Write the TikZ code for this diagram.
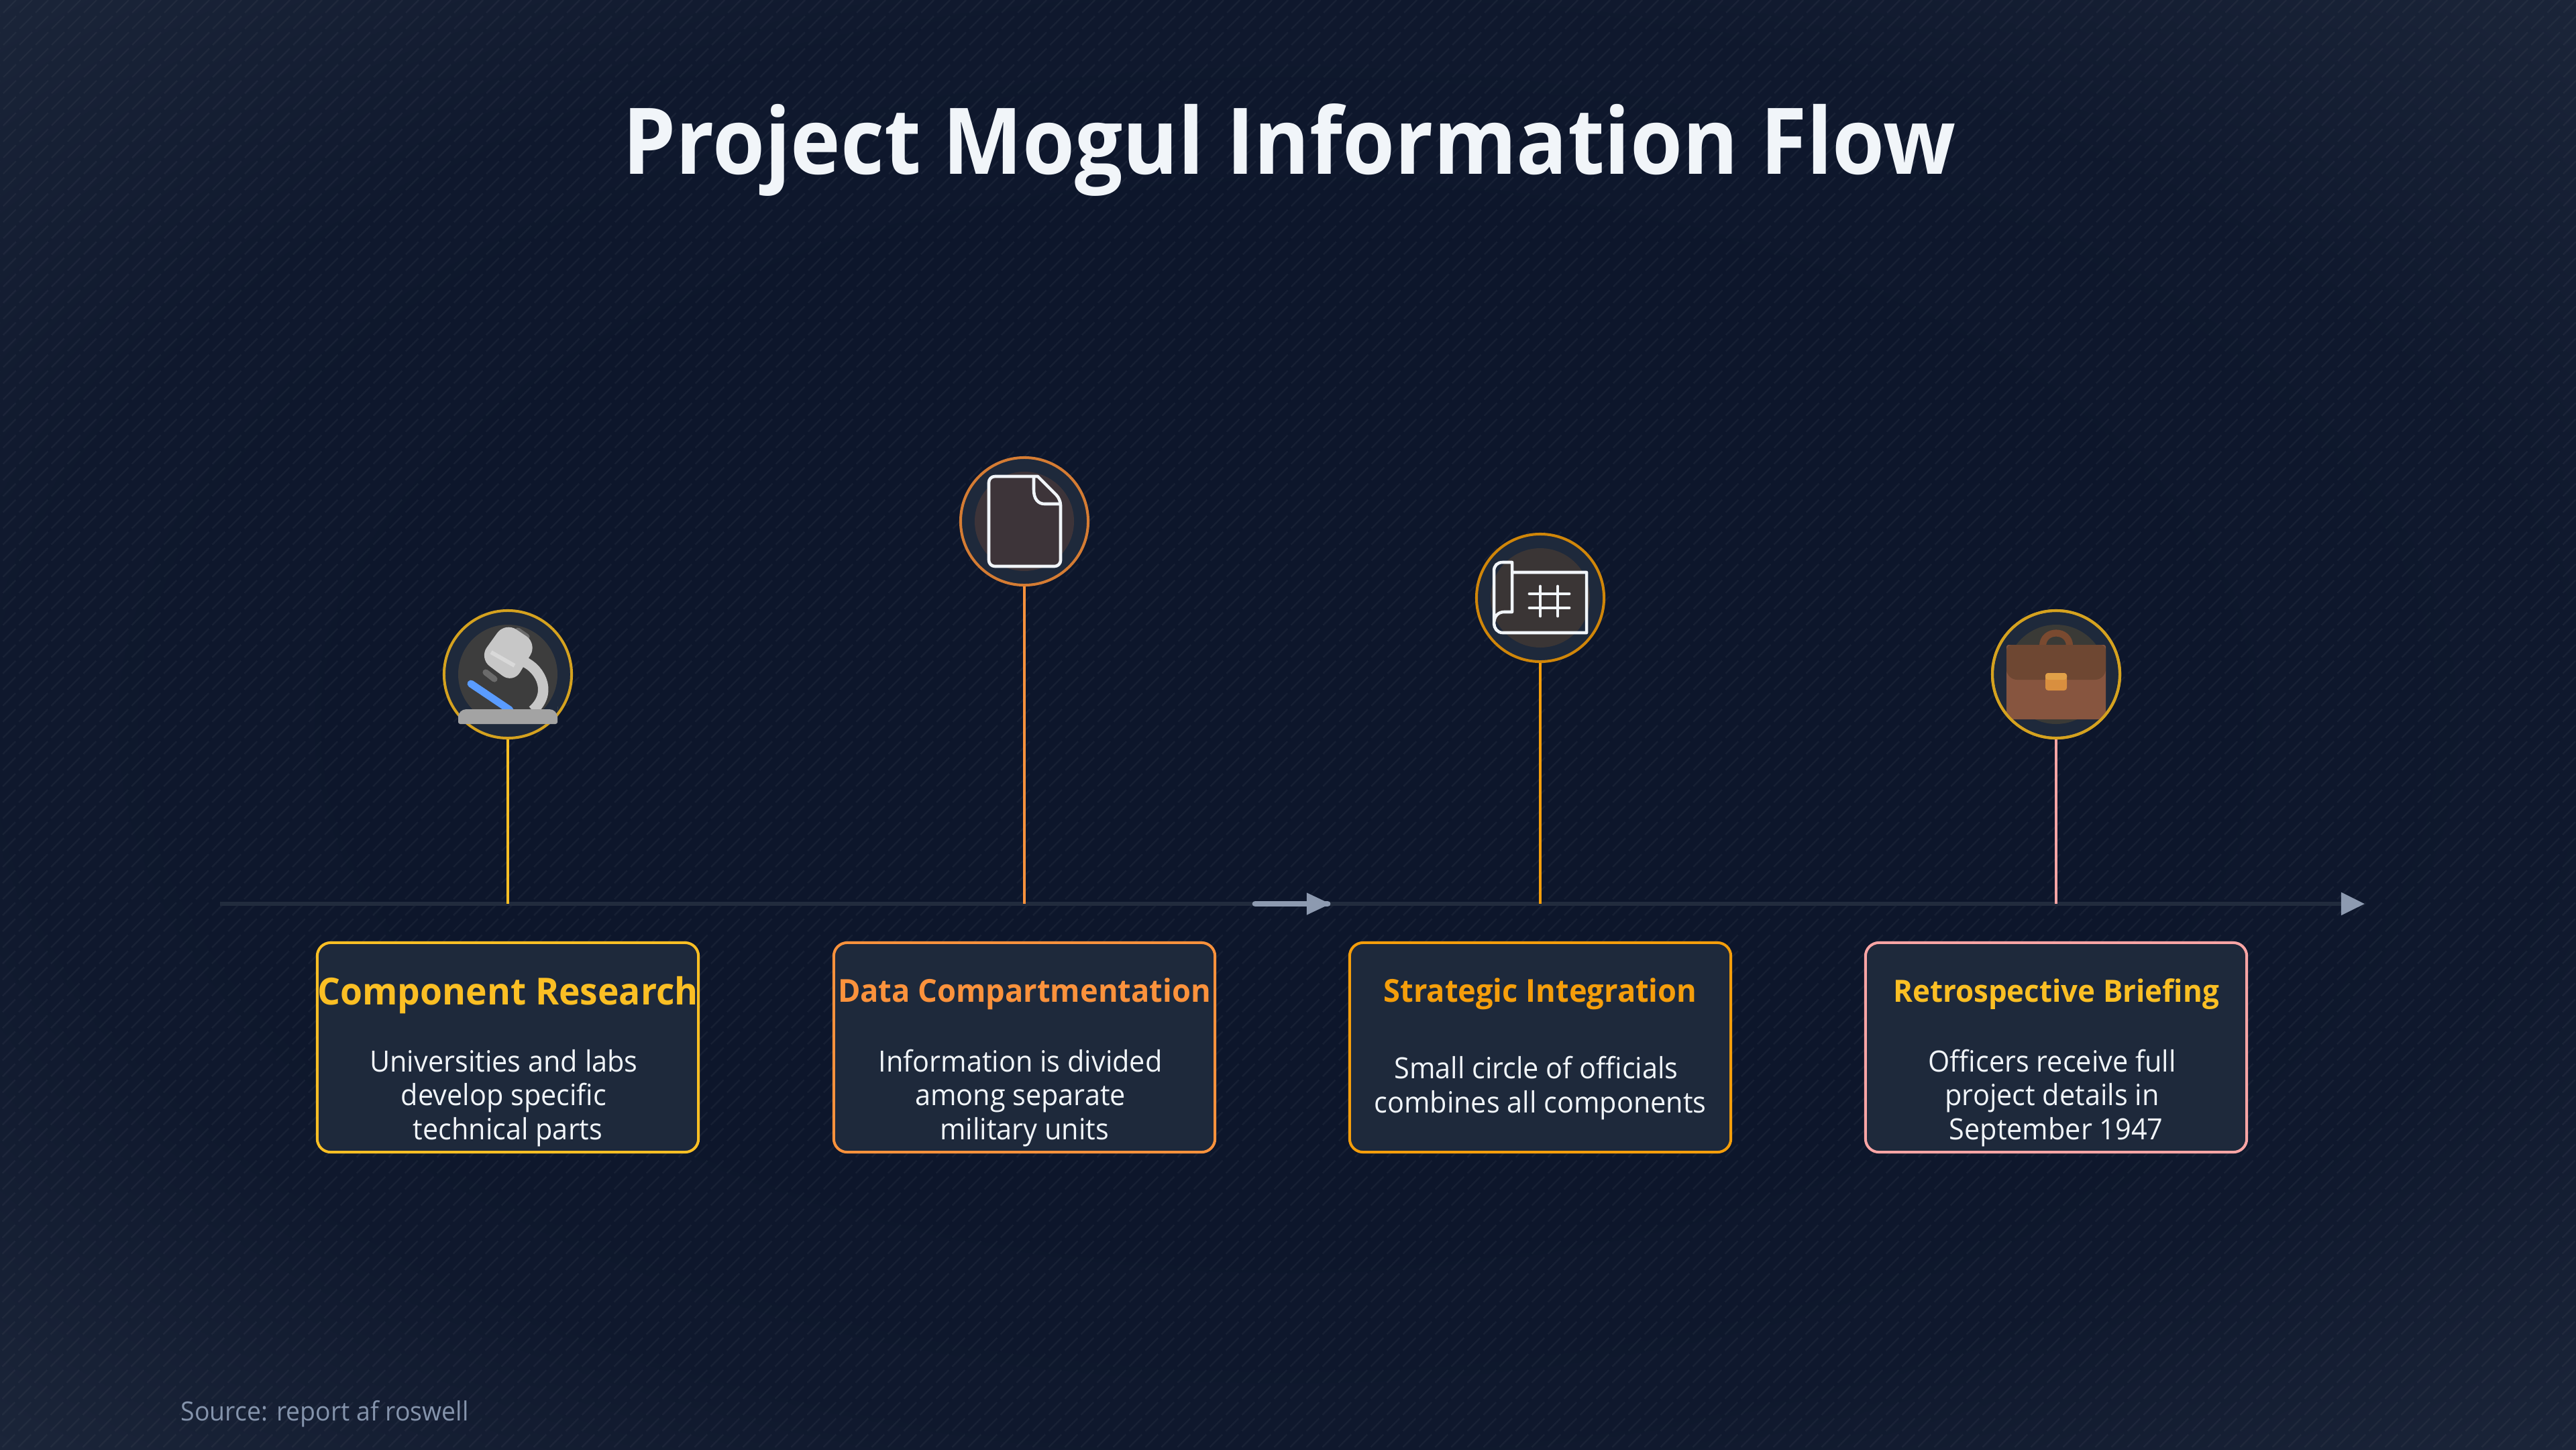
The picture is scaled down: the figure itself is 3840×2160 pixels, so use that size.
\documentclass[tikz,border=0pt]{standalone}
\usepackage{fontspec}
\setmainfont[FakeStretch=0.95]{Open Sans}
\newfontfamily\titlefont[FakeStretch=0.92]{Open Sans}
\newfontfamily\headfont[FakeStretch=0.96]{Open Sans}
\usepackage{tikz}
\usetikzlibrary{arrows.meta,positioning}
\definecolor{bgmid}{RGB}{13,22,43}
\definecolor{bgedge}{RGB}{27,37,57}
\definecolor{panel}{RGB}{30,41,59}
\definecolor{axisgrey}{RGB}{33,43,61}
\definecolor{tipgrey}{RGB}{141,154,176}
\definecolor{goldline}{RGB}{251,191,36}
\definecolor{orangeline}{RGB}{251,146,60}
\definecolor{amberline}{RGB}{245,158,11}
\definecolor{pinkline}{RGB}{252,165,165}
\definecolor{inkwhite}{RGB}{241,245,249}
\definecolor{sourcegrey}{RGB}{133,148,172}
\definecolor{slideblue}{RGB}{90,156,255}
\definecolor{docfill}{RGB}{61,52,57}
\definecolor{planfill}{RGB}{58,53,53}
\definecolor{casefill}{RGB}{58,58,54}
\definecolor{casebody}{RGB}{135,85,63}
\definecolor{caseflap}{RGB}{110,71,50}
\definecolor{casehandle}{RGB}{122,74,48}
\definecolor{claspdark}{RGB}{217,143,63}
\definecolor{clasplight}{RGB}{224,160,72}
\pgfdeclareradialshading{vignette}{\pgfpoint{0bp}{0bp}}{%
  color(0bp)=(bgmid); color(17bp)=(bgmid); color(25bp)=(bgmid!85!bgedge); color(35.4bp)=(bgedge); color(50bp)=(bgedge)}
\tikzset{
  iconring/.style={draw, circle, fill=panel, line width=1.15pt,
    minimum size=1.9cm, inner sep=0pt},
  stem/.style={line width=0.95pt},
  card/.style={draw, rounded corners=0.2cm, fill=panel, line width=1.14pt,
    minimum width=5.68cm, minimum height=3.12cm, inner sep=0pt},
  cardhead/.style={anchor=base, inner sep=0pt, font=\fontsize{13.4}{18}\selectfont\headfont\bfseries},
  cardbody/.style={anchor=base, inner sep=0pt, align=center, text=inkwhite,
    font=\fontsize{12.4}{14.3}\selectfont},
  iconline/.style={draw=inkwhite, line width=1.3pt, line join=round},
}
\newcommand{\tailgap}{\hbox to 3.4pt{}}
\begin{document}
\begin{tikzpicture}[x=0.01cm, y=-0.01cm]
  \useasboundingbox (0,0) rectangle (3840,2160);
  \shade[shading=vignette] (0,0) rectangle (3840,2160);
  % hatch
  \begin{scope}
    \clip (0,0) rectangle (3840,2160);
    \foreach \s in {0,24,...,6000}
      \draw[white, opacity=0.04, line width=0.7pt, dash pattern=on 7.6pt off 2.06pt] (\s,0) -- (\s-2160,2160);
  \end{scope}

  \node[anchor=base, font=\fontsize{39}{44}\selectfont\titlefont\bfseries, text=inkwhite, inner sep=0pt]
    (title) at (1922,259) {Project Mogul Information Flow};

  % timeline
  \coordinate (axisL) at (328,1347);
  \coordinate (axisR) at (3525,1347);
  \draw[axisgrey, line width=1.6pt, -{Triangle[length=10pt, width=9.4pt, color=tipgrey]}] (axisL) -- (axisR);
  \coordinate (midL) at (1871,1347);
  \coordinate (midT) at (1945,1347);
  \coordinate (midR) at (1979,1347);
  \coordinate (midE) at (1983,1347);
  \draw[tipgrey, line width=2.5pt, line cap=round] (midL) -- (midR);
  \draw[tipgrey, line width=0.1pt, -{Triangle[length=10pt, width=9.4pt]}] (midT) -- (midE);

  % icon rings
  \node[iconring, draw=goldline!85!black] (ring1) at (757,1005) {};
  \node[iconring, draw=orangeline!85!black] (ring2) at (1527,777) {};
  \node[iconring, draw=amberline!85!black] (ring3) at (2296,891) {};
  \node[iconring, draw=goldline!85!black] (ring4) at (3065,1005) {};

  \draw[stem, goldline] (ring1) -- (ring1 |- axisL);
  \draw[stem, orangeline] (ring2) -- (ring2 |- axisL);
  \draw[stem, amberline] (ring3) -- (ring3 |- axisL);
  \draw[stem, pinkline] (ring4) -- (ring4 |- axisL);

  % microscope
  \begin{scope}[shift={(ring1.center)}]
    \fill[black!76] (0,0) circle (74);
    \draw[black!58, line width=2.6pt, line cap=round] (15,-65) -- (28,-56);
    \draw[black!58, line width=2.6pt, line cap=round] (-33,-3) -- (-20,7);
    \draw[slideblue, line width=3.1pt, line cap=round] (-55,14) -- (3,53);
    \draw[black!22, line width=4.4pt] (18,-21) .. controls (45,-14) and (70,25) .. (37,54);
    \fill[black!22, rounded corners=0.2cm] (-4,-78) -- (44,-46) -- (8,14) -- (-43,-24) -- cycle;
    \draw[black!15, line width=1.7pt] (-25,-33) -- (10,-13);
    \fill[black!36, rounded corners=0.03cm] (-74,74) -- (-74,60) [rounded corners=0.12cm] -- (-74,52) -- (74,52) -- (74,60) [rounded corners=0.03cm] -- (74,74) -- cycle;
  \end{scope}

  % document
  \begin{scope}[shift={(ring2.center)}]
    \fill[docfill] (0,0) circle (74);
    \draw[iconline, fill=docfill, rounded corners=0.09cm]
      (20,-67) -- (-53,-67) -- (-53,67) -- (54,67) -- (54,-33) [sharp corners] -- cycle;
    \draw[iconline] (14,-67) -- (14,-47) .. controls (14,-34) and (20,-26) .. (30,-26) -- (54,-26);
  \end{scope}

  % blueprint
  \begin{scope}[shift={(ring3.center)}]
    \fill[planfill] (0,0) circle (74);
    \draw[iconline] (-42,-38) -- (69,-38) -- (69,52) -- (-56,52)
      .. controls (-64,52) and (-69,45) .. (-69,38) -- (-69,-40)
      .. controls (-69,-48) and (-64,-53) .. (-56,-53) -- (-42,-53) -- (-42,21) -- (-54,21)
      .. controls (-63,21) and (-69,28) .. (-69,38);
    \draw[iconline, line cap=round, line width=1.4pt] (-16,-6) -- (43,-6) (-16,15) -- (43,15) (0,-17) -- (0,27) (26,-17) -- (26,27);
  \end{scope}

  % briefcase
  \begin{scope}[shift={(ring4.center)}]
    \fill[casefill] (0,0) circle (74);
    \draw[casehandle, line width=2.9pt] (-20,-42) .. controls (-20,-68) and (20,-68) .. (20,-42);
    \begin{scope}
      \clip (0,0) circle (95);
      \fill[casebody, rounded corners=0.03cm] (-74,-44) rectangle (74,67);
    \end{scope}
    \fill[caseflap, rounded corners=0.08cm] (-74,-10) -- (-74,-44) -- (74,-44) -- (74,-10) [rounded corners=0.16cm] -- (74,8) -- (-74,8) [rounded corners=0.08cm] -- cycle;
    \fill[claspdark, rounded corners=0.04cm] (-16,-2) rectangle (16,24);
    \fill[clasplight, rounded corners=0.04cm] (-16,8) -- (-16,-2) -- (16,-2) -- (16,8) -- cycle;
    \draw[goldline!85!black, line width=1.15pt] (0,0) circle (95);
  \end{scope}

  % cards
  \node[card, draw=goldline] (card1) at (757,1561) {};
  \node[card, draw=orangeline] (card2) at (1527,1561) {};
  \node[card, draw=amberline] (card3) at (2296,1561) {};
  \node[card, draw=pinkline] (card4) at (3065,1561) {};

  \node[cardhead, text=goldline] (head1) at (757,1497) {\fontsize{15.8}{18}\selectfont Component Research};
  \node[cardhead, text=orangeline] (head2) at (1527,1493) {Data Compartmentation};
  \node[cardhead, text=amberline] (head3) at (2296,1493) {Strategic Integration};
  \node[cardhead, text=goldline] (head4) at (3065,1493) {\fontsize{13}{18}\selectfont Retrospective Briefing};

  \node[cardbody] (body1) at (757,1698) {Universities and labs\tailgap\\develop specific\tailgap\\technical parts};
  \node[cardbody] (body2) at (1527,1698) {Information is divided\tailgap\\among separate\tailgap\\military units};
  \node[cardbody] (body3) at (2296,1658) {Small circle of officials\tailgap\\combines all components};
  \node[cardbody] (body4) at (3065,1698) {Officers receive full\tailgap\\project details in\tailgap\\September 1947};

  \node[anchor=base west, inner sep=0pt, text=sourcegrey, font=\fontsize{11.2}{14}\selectfont] (source) at (269,2117) {Source: report af roswell};
\end{tikzpicture}
\end{document}
